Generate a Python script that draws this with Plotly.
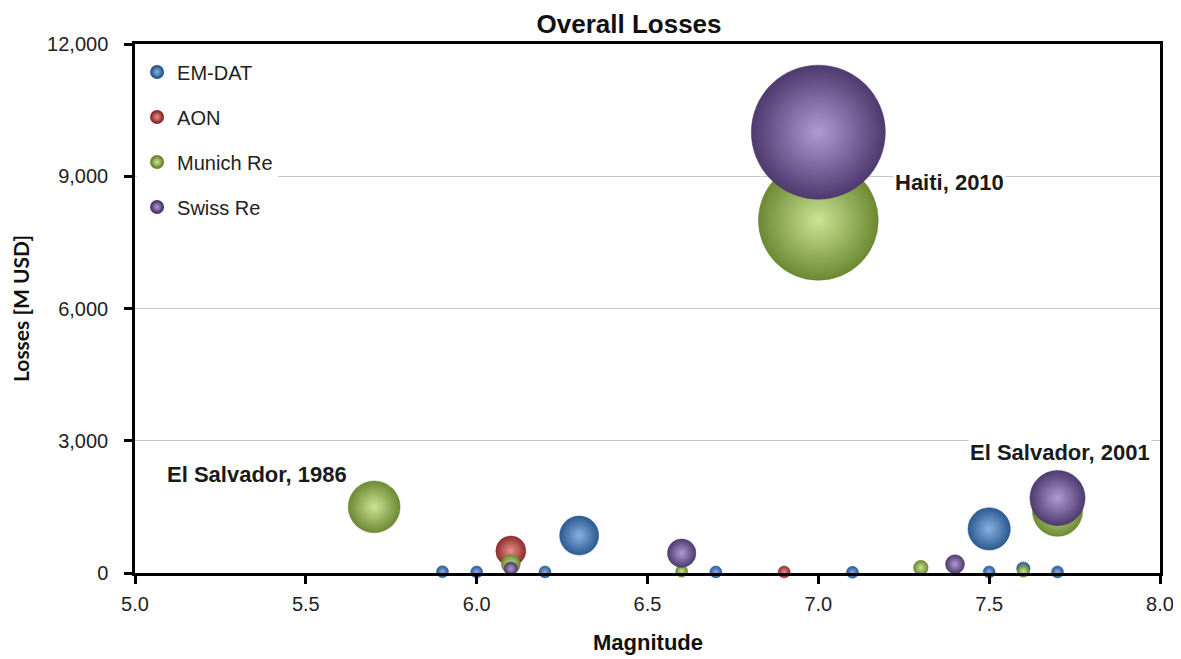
import plotly.graph_objects as go

# ---- data ----
series_names = ["EM-DAT", "AON", "Munich Re", "Swiss Re"]

emdat_mag = [5.9, 6.0, 6.2, 6.3, 6.7, 7.1, 7.5, 7.5, 7.6, 7.7]
emdat_loss = [30, 25, 25, 850, 25, 15, 1000, 25, 100, 25]

aon_mag = [6.1, 6.9]
aon_loss = [500, 25]

munich_mag = [5.7, 6.1, 6.6, 7.0, 7.3, 7.6, 7.7]
munich_loss = [1500, 200, 40, 8000, 120, 40, 1400]

swiss_mag = [6.1, 6.6, 7.0, 7.4, 7.7]
swiss_loss = [100, 450, 10000, 200, 1700]

x_ticks = [5.0, 5.5, 6.0, 6.5, 7.0, 7.5, 8.0]
y_ticks = [0, 3000, 6000, 9000, 12000]

labels_text = ["Haiti, 2010", "El Salvador, 1986", "El Salvador, 2001"]
labels_x = [7.218, 5.088, 7.438]
labels_y = [8850, 2245, 2744]

x_title = "Magnitude"
y_title = "Losses [M USD]"
chart_title = "Overall Losses"

# ---- styling ----
edge_colors = ["#2C5A90", "#8C2E2B", "#6C8932", "#4E3A6E"]
center_colors = ["#86B1E2", "#E8908C", "#CBE395", "#B19AD4"]

max_loss = max(swiss_loss)
desired_max_diam = 134
sizeref = 2.0 * max_loss / desired_max_diam ** 2

fig = go.Figure()
data = [(emdat_mag, emdat_loss), (aon_mag, aon_loss),
        (munich_mag, munich_loss), (swiss_mag, swiss_loss)]
for i, (name, (xs, ys)) in enumerate(zip(series_names, data)):
    fig.add_trace(go.Scatter(
        x=xs, y=ys, mode="markers", name=name,
        legendgroup=name,
        cliponaxis=False,
        marker=dict(
            size=ys, sizemode="area", sizeref=sizeref, sizemin=6,
            opacity=1,
            color=edge_colors[i],
            gradient=dict(type="radial", color=center_colors[i]),
            line=dict(width=0.5, color=edge_colors[i]),
        ),
    ))

for t, x, y in zip(labels_text, labels_x, labels_y):
    fig.add_annotation(
        x=x, y=y, text=t, showarrow=False, xanchor="left", yanchor="middle",
        font=dict(family="Liberation Sans, Arial", size=22, color="#1a1a1a", weight="bold"),
        bgcolor="white",
    )

# x-axis title as a paper-positioned annotation
fig.add_annotation(
    xref="paper", yref="paper", x=0.5, y=-0.1323,
    xanchor="center", yanchor="middle", showarrow=False,
    text=f"<b>{x_title}</b>",
    font=dict(family="Liberation Sans, Arial", size=22, color="#111111"),
)

fig.update_layout(
    width=1173, height=651,
    margin=dict(l=127, r=21, t=36, b=86),
    paper_bgcolor="white", plot_bgcolor="white",
    font=dict(family="Liberation Sans, Arial", size=20, color="#222222"),
    title=dict(
        text=f"<b>{chart_title}</b>",
        xref="paper", x=0.482, xanchor="center",
        yref="container", y=1 - 16 / 651, yanchor="middle",
        font=dict(family="Liberation Sans, Arial", size=26, color="#111111"),
    ),
    showlegend=True,
    legend=dict(
        x=0.002, y=0.984, xanchor="left", yanchor="top",
        bgcolor="white", borderwidth=0,
        font=dict(size=20, color="#222222"),
        tracegroupgap=16, itemsizing="constant",
    ),
    xaxis=dict(
        range=[5.0, 8.0], tickvals=x_ticks, tickformat=".1f",
        showgrid=False, zeroline=False, automargin=False,
        ticklabeloverflow="allow",
        showline=True, linecolor="black", linewidth=2.5, mirror=True,
        ticks="outside", ticklen=8, tickwidth=2.5, tickcolor="black",
        ticklabelstandoff=3,
    ),
    yaxis=dict(
        range=[0, 12000], tickvals=y_ticks, tickformat=",d",
        showgrid=True, gridcolor="#C8C8C8", gridwidth=1, zeroline=False,
        automargin=False,
        showline=True, linecolor="black", linewidth=2.5, mirror=True,
        ticks="outside", ticklen=8, tickwidth=2.5, tickcolor="black",
        ticklabelstandoff=12,
        title=dict(text=f"<b>{y_title}</b>", standoff=14,
                   font=dict(family="Lato, Open Sans", size=21, color="#111111")),
    ),
)

fig.write_html("out.html")
